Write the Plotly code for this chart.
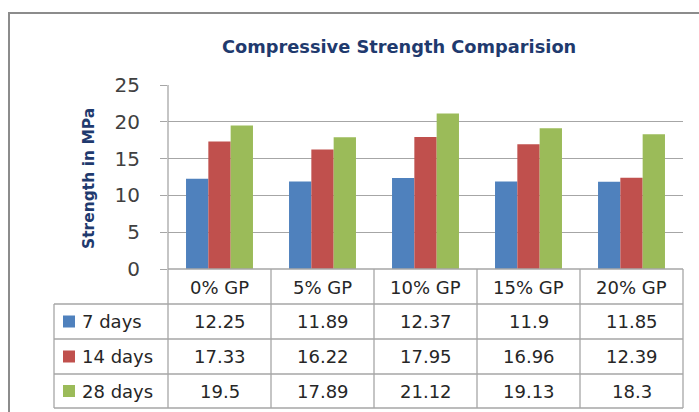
import plotly.graph_objects as go

categories = ["0% GP", "5% GP", "10% GP", "15% GP", "20% GP"]
series_names = ["7 days", "14 days", "28 days"]
days7 = [12.25, 11.89, 12.37, 11.9, 11.85]
days14 = [17.33, 16.22, 17.95, 16.96, 12.39]
days28 = [19.5, 17.89, 21.12, 19.13, 18.3]
value_labels = [
    ["12.25", "11.89", "12.37", "11.9", "11.85"],
    ["17.33", "16.22", "17.95", "16.96", "12.39"],
    ["19.5", "17.89", "21.12", "19.13", "18.3"],
]
colors = ["#4F81BD", "#C0504D", "#9BBB59"]

W, H = 699, 412
L, R, T, B = 168, 683, 85, 269
PW, PH = R - L, B - T


def px(x):
    return (x - L) / PW


def py(y):
    return (B - y) / PH


fig = go.Figure()
for name, vals, col in zip(series_names, [days7, days14, days28], colors):
    fig.add_trace(go.Bar(x=categories, y=vals, name=name, marker=dict(color=col, line=dict(width=0))))

grid_col = "#A6A6A6"
text_col = "#262626"
font_fam = "'DejaVu Sans', sans-serif"

shapes = []
annotations = []

# outer chart border
shapes.append(dict(type="rect", xref="paper", yref="paper", x0=px(9), x1=px(720), y0=py(13), y1=py(430),
                   line=dict(color="#8C8C8C", width=2), fillcolor="rgba(0,0,0,0)", layer="below"))

# table geometry
row_lines = [269, 304, 339, 374, 408]
col_edges = [L + i * PW / 5 for i in range(6)]
left_col = 54

shapes.append(dict(type="line", xref="paper", yref="paper", x0=px(L), x1=px(R), y0=py(269), y1=py(269),
                   line=dict(color=grid_col, width=1.3)))
for yy in row_lines[1:]:
    shapes.append(dict(type="line", xref="paper", yref="paper", x0=px(left_col), x1=px(R), y0=py(yy), y1=py(yy),
                       line=dict(color=grid_col, width=1.3)))
for xx in col_edges:
    top = T if xx == L else 269
    shapes.append(dict(type="line", xref="paper", yref="paper", x0=px(xx), x1=px(xx), y0=py(top), y1=py(408),
                       line=dict(color=grid_col, width=1.3)))
shapes.append(dict(type="line", xref="paper", yref="paper", x0=px(left_col), x1=px(left_col), y0=py(304), y1=py(408),
                   line=dict(color=grid_col, width=1.3)))

tfont = dict(family=font_fam, size=18, color=text_col)
for c in categories:
    annotations.append(dict(x=c, xref="x", y=py(287), yref="paper", text=c, showarrow=False,
                            font=tfont, xanchor="center", yanchor="middle"))

row_centers = [321.5, 356.5, 391]
for r, (name, col) in enumerate(zip(series_names, colors)):
    yc = row_centers[r]
    shapes.append(dict(type="rect", xref="paper", yref="paper", x0=px(63), x1=px(75), y0=py(yc - 6), y1=py(yc + 6),
                       line=dict(width=0), fillcolor=col))
    annotations.append(dict(x=px(80), xref="paper", y=py(yc), yref="paper", text=name, showarrow=False,
                            font=tfont, xanchor="left", yanchor="middle"))
    for c, lab in zip(categories, value_labels[r]):
        annotations.append(dict(x=c, xref="x", y=py(yc), yref="paper", text=lab, showarrow=False,
                                font=tfont, xanchor="center", yanchor="middle"))

annotations.append(dict(x=px(399), xref="paper", y=py(46), yref="paper", text="<b>Compressive Strength Comparision</b>",
                        showarrow=False, font=dict(family=font_fam, size=17.8, color="#1F3A6E"),
                        xanchor="center", yanchor="middle"))
annotations.append(dict(x=px(89), xref="paper", y=py(179), yref="paper", text="<b>Strength in MPa</b>",
                        showarrow=False, textangle=-90, font=dict(family=font_fam, size=15.5, color="#1F3A6E"),
                        xanchor="center", yanchor="middle"))

fig.update_layout(
    width=W, height=H,
    margin=dict(l=L, r=W - R, t=T, b=H - B),
    paper_bgcolor="white", plot_bgcolor="white",
    barmode="group", bargap=0.35, bargroupgap=0,
    showlegend=False,
    shapes=shapes, annotations=annotations,
    xaxis=dict(type="category", range=[-0.5, 4.5], showticklabels=False, showgrid=False, zeroline=False,
               showline=False, ticks=""),
    yaxis=dict(range=[0, 25], dtick=5, showgrid=True, gridcolor=grid_col, gridwidth=1.3, zeroline=False,
               showline=False, ticks="outside", ticklen=7, tickcolor=grid_col, tickwidth=1.3,
               tickfont=dict(family=font_fam, size=20, color="#404040"), ticklabelstandoff=16),
)

fig.write_html("out.html", config={"displayModeBar": False},
               post_script="document.body.style.margin='0';")
